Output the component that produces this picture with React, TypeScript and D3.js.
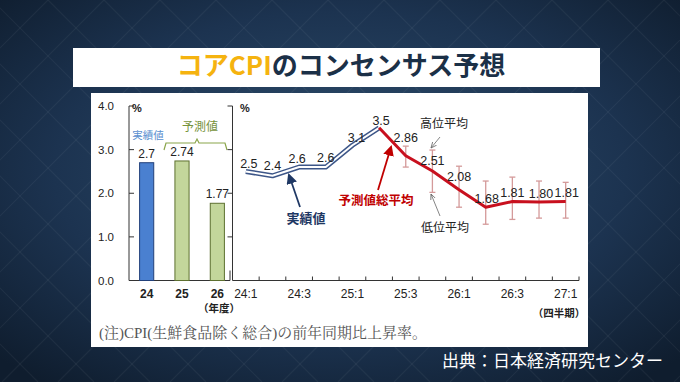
import React from 'react';
import * as d3 from 'd3';

// ---- data ----
const fiscalYears = ['24', '25', '26'];
const fiscalValues = [2.7, 2.74, 1.77];
const fiscalKinds = ['actual', 'forecast', 'forecast'];

const quarters = ['24:1', '24:2', '24:3', '24:4', '25:1', '25:2', '25:3', '25:4', '26:1', '26:2', '26:3', '26:4', '27:1'];
const quarterTickLabels = ['24:1', '24:3', '25:1', '25:3', '26:1', '26:3', '27:1'];

const actualQuarters = ['24:1', '24:2', '24:3', '24:4', '25:1', '25:2'];
const actualValues = [2.5, 2.4, 2.6, 2.6, 3.1, 3.5];

const forecastQuarters = ['25:2', '25:3', '25:4', '26:1', '26:2', '26:3', '26:4', '27:1'];
const forecastValues = [3.5, 2.86, 2.51, 2.08, 1.68, 1.81, 1.80, 1.81];

const rangeQuarters = ['25:3', '25:4', '26:1', '26:2', '26:3', '26:4', '27:1'];
const highValues = [3.08, 2.99, 2.62, 2.28, 2.37, 2.28, 2.25];
const lowValues = [2.60, 2.02, 1.68, 1.29, 1.40, 1.43, 1.43];

const yTicks = [0, 1, 2, 3, 4];

// ---- layout ----
const W = 680, H = 382;
const SANS = "'Liberation Sans', Arial, 'Noto Sans CJK JP', sans-serif";
const CJK = "'Noto Sans CJK JP', 'Noto Sans', sans-serif";
const SERIF = "'Liberation Serif', 'Noto Serif CJK JP', 'Noto Sans CJK JP', serif";

const labelDx: Record<string, number> = { '24:1': 3, '24:3': -2, '25:1': 4, '25:2': 2, '26:2': 1, '26:4': 2, '27:1': 1 };
const labelDy: Record<string, number> = { '24:2': -10, '24:3': -8, '24:1': -8, '25:1': -8, '25:2': -7, '25:3': -18, '25:4': -10, '26:1': -13, '26:4': -8 };

export default function App() {
  const y = d3.scaleLinear().domain([0, 4]).range([280.5, 106]);
  const xBar = d3.scaleBand<string>().domain(fiscalYears).range([129, 235]).paddingInner(0.6).paddingOuter(0.3);
  const xQ = d3.scaleBand<string>().domain(quarters).range([232.5, 579]);
  const qc = (q: string) => (xQ(q) as number) + xQ.bandwidth() / 2;

  const line = d3.line<[string, number]>().x(d => qc(d[0])).y(d => y(d[1]));
  const actualPath = line(actualQuarters.map((q, i) => [q, actualValues[i]]) as [string, number][]) || '';
  const forecastPath = line(forecastQuarters.map((q, i) => [q, forecastValues[i]]) as [string, number][]) || '';

  const fmt1 = d3.format('.1f');
  const fmt2 = d3.format('.2f');

  const labelPos = (q: string, v: number) => {
    const dx = labelDx[q] ?? 0;
    const dy = labelDy[q] ?? -9;
    return { x: qc(q) + dx, y: y(v) + dy + 4.3 };
  };

  const boundaries = quarters.map(q => xQ(q) as number).concat([579]);

  const diag: number[] = d3.range(-400, 1100, 56);

  return (
    <svg width={W} height={H} style={{ position: 'absolute', left: 0, top: 0 }} xmlns="http://www.w3.org/2000/svg">
      <defs>
        <radialGradient id="bg" cx="50%" cy="45%" r="70%">
          <stop offset="0%" stopColor="#2f4f6e" />
          <stop offset="60%" stopColor="#1c3350" />
          <stop offset="100%" stopColor="#0f1d2e" />
        </radialGradient>
        <marker id="arNavy" viewBox="0 0 10 10" refX="8" refY="5" markerWidth="6" markerHeight="6" orient="auto">
          <path d="M0,0 L10,5 L0,10 z" fill="#1f3864" />
        </marker>
        <marker id="arRed" viewBox="0 0 10 10" refX="8" refY="5" markerWidth="6" markerHeight="6" orient="auto">
          <path d="M0,0 L10,5 L0,10 z" fill="#c00000" />
        </marker>
        <marker id="arGray" viewBox="0 0 10 10" refX="9" refY="5" markerWidth="8" markerHeight="8" orient="auto">
          <path d="M0,1 L9,5 L0,9" fill="none" stroke="#666" strokeWidth="1.2" />
        </marker>
      </defs>

      {/* background */}
      <rect x={0} y={0} width={W} height={H} fill="url(#bg)" />
      <g stroke="#ffffff" strokeOpacity={0.05} strokeWidth={1.2}>
        {diag.map((d, i) => (
          <line key={'a' + i} x1={d} y1={0} x2={d + H} y2={H} />
        ))}
        {diag.map((d, i) => (
          <line key={'b' + i} x1={d} y1={0} x2={d - H} y2={H} />
        ))}
      </g>

      {/* title */}
      <rect x={73} y={48} width={527} height={39} fill="#ffffff" />
      <text x={341} y={75} textAnchor="middle" fontFamily={CJK} fontWeight={700} fontSize={26}>
        <tspan fill="#f5b30f">コアCPI</tspan>
        <tspan fill="#1b3047">のコンセンサス予想</tspan>
      </text>

      {/* panel */}
      <rect x={91} y={93} width={497} height={254} fill="#ffffff" />

      {/* left chart axes */}
      <g stroke="#333" strokeWidth={1} fill="none">
        <line x1={129} y1={y(4)} x2={129} y2={y(0)} />
        <line x1={129} y1={y(0)} x2={230} y2={y(0)} />
        {yTicks.slice(1).map(t => (
          <line key={t} x1={129} y1={y(t)} x2={134} y2={y(t)} />
        ))}
        <line x1={230} y1={y(0)} x2={230} y2={y(0) - 10} />
      </g>
      <g fontFamily={SANS} fontSize={11.5} fill="#222" textAnchor="end">
        {yTicks.map(t => (
          <text key={t} x={114} y={y(t) + 4}>{fmt1(t)}</text>
        ))}
      </g>
      <text x={132} y={112} fontFamily={SANS} fontSize={11} fontWeight={700} fill="#222">%</text>

      {/* bars */}
      {fiscalYears.map((fy, i) => (
        <g key={fy}>
          <rect
            x={xBar(fy)}
            y={y(fiscalValues[i])}
            width={xBar.bandwidth()}
            height={y(0) - y(fiscalValues[i])}
            fill={fiscalKinds[i] === 'actual' ? '#4a80d0' : '#c3d69b'}
            stroke={fiscalKinds[i] === 'actual' ? '#22407a' : '#5d7030'}
            strokeWidth={1}
          />
          <text x={(xBar(fy) as number) + xBar.bandwidth() / 2} y={y(fiscalValues[i]) - 5} textAnchor="middle" fontFamily={SANS} fontSize={12} fill="#222">
            {i === 0 ? fmt1(fiscalValues[i]) : fmt2(fiscalValues[i])}
          </text>
          <text x={(xBar(fy) as number) + xBar.bandwidth() / 2} y={298} textAnchor="middle" fontFamily={SANS} fontSize={12} fontWeight={700} fill="#222">
            {fy}
          </text>
        </g>
      ))}
      <text x={219} y={312} textAnchor="middle" fontFamily={CJK} fontSize={10.5} fontWeight={700} fill="#222">（年度）</text>
      <text x={148} y={139} textAnchor="middle" fontFamily={CJK} fontSize={10.5} fill="#5b8fd0">実績値</text>
      <text x={200} y={131} textAnchor="middle" fontFamily={CJK} fontSize={12} fill="#77933c">予測値</text>
      <path d="M164,150 L166,143 L195,143 L197,139 L199,143 L225,143 L227,150" fill="none" stroke="#8aa54a" strokeWidth={1.2} />

      {/* right chart axes */}
      <g stroke="#333" strokeWidth={1} fill="none">
        <line x1={232.5} y1={y(4)} x2={232.5} y2={y(0)} />
        <line x1={232.5} y1={y(0)} x2={579} y2={y(0)} />
        {yTicks.slice(1).map(t => (
          <line key={t} x1={227.5} y1={y(t)} x2={232.5} y2={y(t)} />
        ))}
        {boundaries.slice(1).map((b, i) => (
          <line key={i} x1={b} y1={y(0)} x2={b} y2={y(0) - 4} />
        ))}
      </g>
      <text x={240} y={112} fontFamily={SANS} fontSize={11} fontWeight={700} fill="#222">%</text>
      <g fontFamily={SANS} fontSize={12} fill="#222" textAnchor="middle">
        {quarterTickLabels.map(q => (
          <text key={q} x={qc(q)} y={298}>{q}</text>
        ))}
      </g>
      <text x={559} y={317} textAnchor="middle" fontFamily={CJK} fontSize={10.5} fontWeight={700} fill="#222">（四半期）</text>

      {/* error bars */}
      <g stroke="#d49a9a" strokeWidth={1.3}>
        {rangeQuarters.map((q, i) => (
          <g key={q}>
            <line x1={qc(q)} y1={y(highValues[i])} x2={qc(q)} y2={y(lowValues[i])} />
            <line x1={qc(q) - 3} y1={y(highValues[i])} x2={qc(q) + 3} y2={y(highValues[i])} />
            <line x1={qc(q) - 3} y1={y(lowValues[i])} x2={qc(q) + 3} y2={y(lowValues[i])} />
          </g>
        ))}
      </g>

      {/* actual line (double) */}
      <path d={actualPath} fill="none" stroke="#3d5688" strokeWidth={5} strokeLinejoin="round" />
      <path d={actualPath} fill="none" stroke="#ffffff" strokeWidth={2} strokeLinejoin="round" />

      {/* forecast line */}
      <path d={forecastPath} fill="none" stroke="#c8101e" strokeWidth={3} strokeLinejoin="round" />

      {/* value labels */}
      <g fontFamily={SANS} fontSize={12.5} fill="#222" textAnchor="middle">
        {actualQuarters.map((q, i) => {
          const p = labelPos(q, actualValues[i]);
          return <text key={q} x={p.x} y={p.y}>{fmt1(actualValues[i])}</text>;
        })}
        {forecastQuarters.slice(1).map((q, i) => {
          const p = labelPos(q, forecastValues[i + 1]);
          return <text key={q} x={p.x} y={p.y}>{fmt2(forecastValues[i + 1])}</text>;
        })}
      </g>

      {/* annotations */}
      <line x1={300} y1={207} x2={289} y2={175} stroke="#1f3864" strokeWidth={1.8} markerEnd="url(#arNavy)" />
      <text x={306} y={223} textAnchor="middle" fontFamily={CJK} fontSize={13} fontWeight={700} fill="#1f3864">実績値</text>
      <line x1={378} y1={190} x2={391} y2={147} stroke="#c00000" strokeWidth={1.8} markerEnd="url(#arRed)" />
      <text x={376} y={205} textAnchor="middle" fontFamily={CJK} fontSize={12.5} fontWeight={700} fill="#c00000">予測値総平均</text>
      <text x={444} y={128} textAnchor="middle" fontFamily={CJK} fontSize={12} fill="#222">高位平均</text>
      <line x1={440} y1={137} x2={431} y2={148} stroke="#666" strokeWidth={0.8} markerEnd="url(#arGray)" />
      <text x={445} y={232} textAnchor="middle" fontFamily={CJK} fontSize={12} fill="#222">低位平均</text>
      <line x1={440} y1={216} x2={431} y2={194} stroke="#666" strokeWidth={0.8} markerEnd="url(#arGray)" />

      {/* note */}
      <text x={99} y={338} fontFamily={SERIF} fontSize={15} fill="#555" textLength={328} lengthAdjust="spacingAndGlyphs">(注)CPI(生鮮食品除く総合)の前年同期比上昇率。</text>

      {/* source */}
      <text x={442} y={367} fontFamily={CJK} fontSize={17} fill="#ffffff">出典：日本経済研究センター</text>
    </svg>
  );
}
